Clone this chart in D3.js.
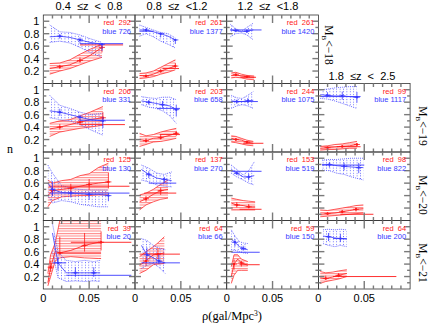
<!DOCTYPE html>
<html><head><meta charset="utf-8">
<script src="https://cdn.jsdelivr.net/npm/d3@7"></script>
<style>body{margin:0;background:#fff}svg{display:block}text{white-space:pre}</style>
</head><body><svg id="c" width="436" height="326"></svg>
<script>
const zBins = ["0.4  \u2264z  <  0.8", "0.8  \u2264z  <1.2", "1.2  \u2264z  <1.8", "1.8  \u2264z  <  2.5"];
const magBins = ["\u221218", "\u221219", "\u221220", "\u221221"];
const yTicks = [0.2, 0.4, 0.6, 0.8, 1];
const xTicks = [0, 0.05];
const panelRow = [0,0,0, 1,1,1,1, 2,2,2,2, 3,3,3,3];
const panelCol = [0,1,2, 0,1,2,3, 0,1,2,3, 0,1,2,3];
const redCount  = [292,261,261, 206,203,244,99, 125,137,153,98, 39,64,59,64];
const blueCount = [726,1377,1420, 331,658,1075,1117, 130,270,519,822, 20,66,150,200];

const blueRho = [
 [0.007,0.018,0.029,0.040,0.051,0.064],
 [0.005,0.012,0.020,0.028,0.036,0.044],
 [0.004,0.010,0.016,0.022,0.029],
 [0.007,0.018,0.029,0.040,0.051,0.065],
 [0.007,0.015,0.023,0.030,0.038,0.045],
 [0.005,0.011,0.017,0.023,0.029],
 [0.002,0.010,0.018,0.026,0.034,0.042],
 [0.005,0.010,0.020,0.030,0.040,0.050,0.060,0.071],
 [0.007,0.015,0.024,0.032,0.040],
 [0.005,0.011,0.018,0.024,0.030],
 [0.004,0.012,0.020,0.028,0.036,0.044,0.049],
 [0.010,0.016,0.025,0.035,0.045,0.055,0.062],
 [0.007,0.013,0.020,0.026,0.033],
 [0.005,0.009,0.014,0.018,0.023],
 [0.005,0.011,0.018,0.024,0.031]];
const blueMid = [
 [0.75,0.76,0.74,0.70,0.66,0.63],
 [0.86,0.86,0.83,0.80,0.76,0.70],
 [0.86,0.85,0.83,0.84,0.86],
 [0.66,0.64,0.60,0.56,0.52,0.50],
 [0.82,0.80,0.78,0.76,0.74,0.68],
 [0.82,0.81,0.81,0.82,0.83],
 [0.92,0.91,0.90,0.90,0.89,0.88],
 [0.60,0.50,0.45,0.44,0.43,0.42,0.42,0.40],
 [0.82,0.74,0.68,0.66,0.64],
 [0.82,0.76,0.70,0.70,0.72],
 [0.90,0.90,0.88,0.87,0.86,0.85,0.85],
 [0.90,0.42,0.26,0.26,0.26,0.26,0.26],
 [0.70,0.55,0.50,0.45,0.42],
 [0.80,0.75,0.68,0.65,0.63],
 [0.85,0.84,0.82,0.81,0.80]];
const blueHi = [
 [0.94,0.83,0.82,0.78,0.72,0.66],
 [0.94,0.90,0.86,0.82,0.80,0.73],
 [0.95,0.88,0.84,0.90,0.97],
 [0.91,0.75,0.70,0.64,0.60,0.62],
 [0.89,0.87,0.86,0.88,0.88,0.84],
 [0.91,0.87,0.86,0.91,0.97],
 [1.00,1.01,1.03,1.04,1.05,1.05],
 [0.89,0.76,0.56,0.52,0.50,0.49,0.49,0.49],
 [0.89,0.84,0.76,0.74,0.78],
 [0.89,0.82,0.73,0.80,0.94],
 [0.97,0.98,0.98,0.99,1.00,1.00,1.00],
 [1.05,0.60,0.46,0.44,0.46,0.44,0.46],
 [0.81,0.78,0.70,0.66,0.63],
 [0.95,0.85,0.76,0.74,0.73],
 [0.95,0.96,0.95,0.96,0.95]];
const blueLo = [
 [0.66,0.68,0.65,0.58,0.50,0.42],
 [0.76,0.80,0.75,0.68,0.63,0.57],
 [0.75,0.80,0.81,0.78,0.70],
 [0.55,0.52,0.50,0.44,0.36,0.27],
 [0.76,0.72,0.70,0.66,0.58,0.46],
 [0.70,0.74,0.76,0.74,0.70],
 [0.86,0.85,0.82,0.78,0.74,0.70],
 [0.40,0.28,0.32,0.30,0.26,0.24,0.22,0.22],
 [0.65,0.62,0.57,0.55,0.54],
 [0.76,0.70,0.65,0.60,0.57],
 [0.81,0.80,0.76,0.74,0.70,0.67,0.65],
 [0.60,0.18,0.12,0.13,0.12,0.13,0.12],
 [0.33,0.38,0.41,0.35,0.25],
 [0.63,0.62,0.60,0.58,0.57],
 [0.73,0.70,0.68,0.70,0.68]];
// horizontal bars: [n, rhoStart, rhoEnd]
const blueBars = [
 [[0.64,0.040,0.087]], [[0.84,0.005,0.020]], [[0.86,0.004,0.038]],
 [[0.51,0.040,0.089]], [[0.70,0.024,0.049]], [[0.81,0.005,0.034]], [[0.89,0.002,0.046]],
 [[0.44,0.007,0.094]], [[0.60,0.015,0.045]], [[0.79,0.005,0.038]], [[0.89,0.004,0.050]],
 [[0.22,0.025,0.096],[0.42,0.010,0.025]], [[0.42,0.007,0.049]], [[0.59,0.005,0.036]], [[0.81,0.016,0.031]]];

const redRho = [
 [0.007,0.018,0.029,0.040,0.051,0.064],
 [0.005,0.012,0.020,0.028,0.036,0.044],
 [0.005,0.010,0.016,0.022,0.030],
 [0.007,0.018,0.029,0.040,0.051,0.065],
 [0.005,0.012,0.020,0.028,0.036,0.045],
 [0.005,0.010,0.016,0.022,0.029],
 [0.002,0.010,0.018,0.026,0.034,0.042],
 [0.005,0.010,0.020,0.030,0.040,0.050,0.060,0.071],
 [0.005,0.012,0.020,0.028,0.036],
 [0.005,0.011,0.018,0.024,0.031],
 [0.002,0.010,0.018,0.026,0.034,0.041,0.049],
 [0.005,0.008,0.013,0.018,0.030,0.045,0.060,0.063],
 [0.005,0.012,0.020,0.025,0.032],
 [0.005,0.008,0.012,0.016,0.023],
 [0.002,0.008,0.015,0.022,0.031]];
const redMid = [
 [0.24,0.27,0.30,0.37,0.45,0.58],
 [0.13,0.12,0.15,0.20,0.24,0.28],
 [0.13,0.14,0.12,0.11,0.10],
 [0.37,0.40,0.44,0.48,0.52,0.55],
 [0.20,0.18,0.22,0.23,0.26,0.30],
 [0.22,0.20,0.19,0.16,0.14],
 [0.06,0.07,0.08,0.09,0.10,0.12],
 [0.40,0.48,0.50,0.52,0.55,0.58,0.60,0.62],
 [0.30,0.35,0.42,0.48,0.50],
 [0.28,0.25,0.24,0.22,0.22],
 [0.10,0.11,0.12,0.14,0.16,0.18,0.19],
 [0.10,0.35,0.60,0.58,0.62,0.70,0.75,0.75],
 [0.38,0.45,0.55,0.56,0.58],
 [0.20,0.40,0.48,0.42,0.38],
 [0.18,0.17,0.19,0.22,0.25]];
const redHi = [
 [0.32,0.33,0.38,0.47,0.55,0.63],
 [0.16,0.17,0.20,0.26,0.32,0.38],
 [0.17,0.18,0.15,0.13,0.12],
 [0.46,0.50,0.52,0.58,0.64,0.73],
 [0.30,0.26,0.28,0.32,0.35,0.38],
 [0.26,0.25,0.22,0.19,0.17],
 [0.09,0.10,0.12,0.13,0.15,0.17],
 [0.65,0.60,0.64,0.66,0.72,0.75,0.85,0.92],
 [0.41,0.44,0.50,0.58,0.65],
 [0.36,0.34,0.32,0.31,0.30],
 [0.17,0.16,0.18,0.20,0.22,0.24,0.25],
 [0.25,0.55,0.74,1.10,1.10,1.10,1.10,1.10],
 [0.52,0.60,0.68,0.74,0.84],
 [0.36,0.55,0.55,0.48,0.44],
 [0.28,0.26,0.27,0.29,0.31]];
const redLo = [
 [0.15,0.20,0.24,0.30,0.36,0.42],
 [0.08,0.09,0.11,0.15,0.18,0.22],
 [0.09,0.10,0.09,0.07,0.06],
 [0.25,0.32,0.35,0.38,0.40,0.43],
 [0.09,0.12,0.16,0.17,0.19,0.22],
 [0.16,0.15,0.13,0.11,0.10],
 [0.03,0.04,0.04,0.05,0.06,0.06],
 [0.22,0.32,0.38,0.39,0.40,0.40,0.41,0.41],
 [0.17,0.25,0.30,0.34,0.36],
 [0.17,0.17,0.17,0.17,0.17],
 [0.06,0.07,0.08,0.09,0.10,0.11,0.12],
 [0.05,0.20,0.45,0.50,0.52,0.50,0.49,0.49],
 [0.25,0.30,0.39,0.40,0.41],
 [0.09,0.22,0.30,0.30,0.30],
 [0.09,0.12,0.14,0.16,0.20]];
const redBars = [
 [[0.62,0.040,0.087]], [[0.24,0.030,0.048]], [[0.10,0.015,0.032]],
 [[0.44,0.040,0.089]], [[0.28,0.027,0.049]], [[0.14,0.018,0.040]], [[0.085,0.020,0.046]],
 [[0.55,0.006,0.094]], [[0.44,0.010,0.045]], [[0.18,0.014,0.038]], [[0.10,0.024,0.060]],
 [[0.75,0.030,0.096],[0.58,0.018,0.063]], [[0.56,0.005,0.049]], [[0.39,0.014,0.036]], [[0.20,0.016,0.085]]];

const RED = "#ff1a1a", BLUE = "#3a3aff", TICK = "#7a7a7a", FRAME = "#333";
const left0 = 43.3, pw = 91.7, top0 = 15, ph = 68.5;
const x = d3.scaleLinear().domain([0, 0.1]).range([0, pw]);
const y = d3.scaleLinear().domain([0, 1.1]).range([ph, 0]);

const svg = d3.select("#c");
const defs = svg.append("defs");
const pr = defs.append("pattern").attr("id","hr").attr("patternUnits","userSpaceOnUse").attr("width",4).attr("height",2.5);
pr.append("line").attr("x1",0).attr("x2",4).attr("y1",0.6).attr("y2",0.6).attr("stroke",RED).attr("stroke-width",0.6);
const pb = defs.append("pattern").attr("id","hb").attr("patternUnits","userSpaceOnUse").attr("width",3.4).attr("height",2.6);
pb.append("rect").attr("x",1).attr("y",0).attr("width",0.7).attr("height",1).attr("fill",BLUE);

panelRow.forEach((r, i) => {
  const c = panelCol[i];
  const g = svg.append("g").attr("transform", `translate(${left0 + c*pw},${top0 + r*ph})`);
  defs.append("clipPath").attr("id","cp"+i).append("rect").attr("width",pw).attr("height",ph);
  const pg = g.append("g").attr("clip-path",`url(#cp${i})`);

  const sets = [
    {rho: redRho[i], mid: redMid[i], hi: redHi[i], lo: redLo[i], bars: redBars[i], col: RED, pat: "hr", dash: null},
    {rho: blueRho[i], mid: blueMid[i], hi: blueHi[i], lo: blueLo[i], bars: blueBars[i], col: BLUE, pat: "hb", dash: "1,1"}
  ];
  sets.forEach(s => {
    const pts = s.rho.map((v,k) => ({r: v, m: s.mid[k], h: s.hi[k], l: s.lo[k]}));
    pg.append("path").datum(pts).attr("fill", `url(#${s.pat})`)
      .attr("d", d3.area().x(d => x(d.r)).y0(d => y(d.l)).y1(d => y(d.h)));
    ["h","l"].forEach(key => {
      pg.append("path").datum(pts).attr("fill","none").attr("stroke", s.col).attr("stroke-width",0.7)
        .attr("stroke-dasharray", s.dash)
        .attr("d", d3.line().x(d => x(d.r)).y(d => y(d[key])));
    });
  });
  sets.forEach(s => {
    const pts = s.rho.map((v,k) => ({r: v, m: s.mid[k], h: s.hi[k], l: s.lo[k]}));
    pg.append("path").datum(pts).attr("fill","none").attr("stroke", s.col).attr("stroke-width",0.8)
      .attr("d", d3.line().x(d => x(d.r)).y(d => y(d.m)));
    s.bars.forEach(b => {
      pg.append("line").attr("x1", x(b[1])).attr("x2", x(b[2])).attr("y1", y(b[0])).attr("y2", y(b[0]))
        .attr("stroke", s.col).attr("stroke-width", 0.9);
    });
    pts.forEach((d,k) => {
      if (k % 2 === 1) {
        pg.append("line").attr("x1", x(d.r)).attr("x2", x(d.r)).attr("y1", y((d.m+d.h)/2)).attr("y2", y((d.m+d.l)/2))
          .attr("stroke", s.col).attr("stroke-width", 0.8);
        pg.append("line").attr("x1", x(d.r)-3).attr("x2", x(d.r)+3).attr("y1", y(d.m)).attr("y2", y(d.m))
          .attr("stroke", s.col).attr("stroke-width", 0.8);
        pg.append("circle").attr("cx", x(d.r)).attr("cy", y(d.m)).attr("r", 1.2).attr("fill", s.col);
      }
    });
  });

  // frame
  g.append("rect").attr("width",pw).attr("height",ph).attr("fill","none").attr("stroke",FRAME).attr("stroke-width",0.8);
  // y ticks
  d3.range(1, 11).forEach(k => {
    const v = k/10, len = (k % 2 === 0) ? 6 : 3;
    [[0, len],[pw, pw-len]].forEach(([a,b]) => {
      g.append("line").attr("x1",a).attr("x2",b).attr("y1",y(v)).attr("y2",y(v)).attr("stroke",TICK).attr("stroke-width",1.4);
    });
  });
  // x ticks
  d3.range(1, 10).forEach(k => {
    const v = k/100, len = (k === 5) ? 8 : 3.5;
    [[ph, ph-len],[0, len]].forEach(([a,b]) => {
      g.append("line").attr("x1",x(v)).attr("x2",x(v)).attr("y1",a).attr("y2",b).attr("stroke",TICK).attr("stroke-width",1.4);
    });
  });
  // counts
  g.append("text").attr("x", pw-4).attr("y", 10).attr("text-anchor","end").attr("fill",RED)
    .attr("font-family","Liberation Sans, Arial, sans-serif").attr("font-size",7.5).text("red  " + redCount[i]);
  g.append("text").attr("x", pw-4).attr("y", 18.5).attr("text-anchor","end").attr("fill",BLUE)
    .attr("font-family","Liberation Sans, Arial, sans-serif").attr("font-size",7.5).text("blue " + blueCount[i]);

  // tick labels
  if (c === 0) {
    yTicks.forEach(v => {
      g.append("text").attr("x",-4).attr("y",y(v)+4).attr("text-anchor","end")
        .attr("font-family","Liberation Sans, Arial, sans-serif").attr("font-size",11).text(v === 1 ? "1" : v.toFixed(1));
    });
  }
  if (r === 3) {
    xTicks.forEach(v => {
      g.append("text").attr("x",x(v)).attr("y",ph+13).attr("text-anchor","middle")
        .attr("font-family","Liberation Sans, Arial, sans-serif").attr("font-size",11).text(v === 0 ? "0" : "0.05");
    });
  }
});

// column headers
const hdrPos = [[89, 10], [177, 10], [268, 10], [362, 80]];
zBins.forEach((t, k) => {
  svg.append("text").attr("x", hdrPos[k][0]).attr("y", hdrPos[k][1]).attr("text-anchor","middle")
    .attr("font-family","Liberation Sans, Arial, sans-serif").attr("font-size",11).text(t);
});
// row labels (rotated)
const rowLab = [[324.5, 45], [418.5, 126], [418.5, 195], [418.5, 263]];
magBins.forEach((m, k) => {
  const t = svg.append("text").attr("transform", `translate(${rowLab[k][0]},${rowLab[k][1]}) rotate(90)`)
    .attr("text-anchor","middle").attr("font-family","Liberation Serif, Times New Roman, serif").attr("font-size",11.5);
  t.append("tspan").text("M");
  t.append("tspan").attr("font-size",7).attr("dy",2.5).text("B");
  t.append("tspan").attr("dy",-2.5).text("<" + m);
});
// axis titles
svg.append("text").attr("x",10).attr("y",153).attr("text-anchor","middle")
  .attr("font-family","Liberation Serif, Times New Roman, serif").attr("font-size",12).text("n");
const xt = svg.append("text").attr("x",232).attr("y",320).attr("text-anchor","middle")
  .attr("font-family","Liberation Serif, Times New Roman, serif").attr("font-size",12.5);
xt.append("tspan").text("\u03c1(gal/Mpc");
xt.append("tspan").attr("font-size",7.5).attr("dy",-4).text("3");
xt.append("tspan").attr("dy",4).text(")");
</script></body></html>
